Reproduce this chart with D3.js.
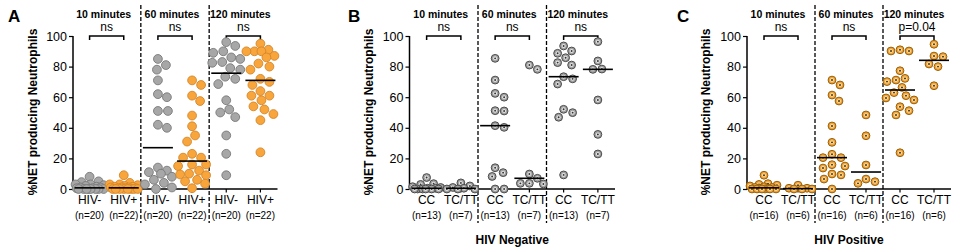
<!DOCTYPE html>
<html><head><meta charset="utf-8">
<script src="https://cdn.jsdelivr.net/npm/d3@7"></script>
<style>body{margin:0;background:#fff} svg{display:block} text{font-family:"Liberation Sans",Arial,sans-serif;fill:#000}</style>
</head><body><svg id="c" width="957" height="251"></svg>
<script>
// ---------- data ----------
const timepoints = ["10 minutes", "60 minutes", "120 minutes"];
const yTicks = [0, 20, 40, 60, 80, 100];
const yLabel = "%NET producing Neutrophils";

// Panel A
const groupsA = ["HIV-", "HIV+"];
const countsA = ["(n=20)", "(n=22)"];
const sigA = ["ns", "ns", "ns"];
const aNeg10 = [8, 5, 4.5, 3, 3, 2.5, 2, 1.5, 1, 1, 0.5, 0.5, 0, 0, 0, 0, 0, 0, 0, 0];
const aPos10 = [9, 4, 3, 3, 2.5, 2, 1.5, 1.5, 1, 1, 1, 0.5, 0.5, 0.5, 0, 0, 0, 0, 0, 0, 0, 0];
const aNeg60 = [85, 81, 78, 71, 62, 60, 51, 51, 42, 40, 14, 12, 11, 10, 8, 6, 4, 3, 1, 0];
const aPos60 = [71, 68, 61, 57.5, 48, 41, 35, 31, 23, 20.5, 20.5, 16, 16, 15, 12, 10, 9.5, 9, 6, 5, 3.5, 0.5];
const aNeg120 = [96, 93.5, 90, 89, 86, 85, 83, 82.5, 79, 78, 73.4, 72, 68.6, 58, 52, 50, 47, 35, 23, 9];
const aPos120 = [95, 91, 90, 90, 90, 87, 86, 82, 80, 78, 72, 70, 68, 64, 61, 61, 58, 54, 52, 49, 45, 24];

// Panel B (HIV Negative)
const groupsB = ["CC", "TC/TT"];
const countsB = ["(n=13)", "(n=7)"];
const sigB = ["ns", "ns", "ns"];
const footerB = "HIV Negative";
const bCC10 = [7.5, 3.5, 3, 1.5, 1, 0.5, 0.5, 0, 0, 0, 0, 0, 0];
const bTT10 = [4, 2, 1, 0.5, 0, 0, 0];
const bCC60 = [85.4, 71.2, 62.5, 60, 51.2, 51, 41.4, 40.3, 13.9, 10.7, 8.2, 0, 0];
const bTT60 = [81, 78.2, 9.8, 7, 3.7, 3.7, 3.3];
const bCC120 = [93.5, 90.2, 88.7, 85.8, 82.6, 81, 73.4, 72, 68.6, 52.1, 49.9, 46.9, 9.2];
const bTT120 = [96.3, 83.7, 78.4, 78.2, 58.2, 35.7, 22.9];

// Panel C (HIV Positive)
const groupsC = ["CC", "TC/TT"];
const countsC = ["(n=16)", "(n=6)"];
const sigC = ["ns", "ns", "p=0.04"];
const footerC = "HIV Positive";
const cCC10 = [9, 3.5, 3, 2.5, 2, 1.5, 1, 1, 0.5, 0.5, 0, 0, 0, 0, 0, 0];
const cTT10 = [2.5, 0.5, 0.5, 0, 0, 0];
const cCC60 = [71.2, 68, 61.4, 57.5, 41.2, 30.5, 22.7, 20.5, 20.5, 15.9, 15, 13.7, 9.8, 9.2, 6.5, 0];
const cTT60 = [48.4, 34.8, 15.7, 6.5, 4.8, 3.7];
const cCC120 = [91, 90.2, 90.2, 77.3, 72.3, 71.2, 70.2, 66.4, 63, 61, 59.5, 58.2, 53.8, 51.2, 48.4, 23.7];
const cTT120 = [94.6, 86.9, 86.5, 81.7, 80, 67.5];

// ---------- layout / style ----------
const GRAY = {fill: "#a7a7a7", stroke: "#787878"};
const ORANGE = {fill: "#f8a53c", stroke: "#d4862a"};
const GRAYDOT = {fill: "#a0a0a0", stroke: "#4c4c4c", inner: "#e4e4e4", center: "#333"};
const ORANGEDOT = {fill: "#f5a436", stroke: "#94600f", inner: "#fcdca2", center: "#3a2a10"};

const panels = [
  {letter: "A", letterX: 8, titleX: 33, axisX: 73, x0: 72.5, x1: 277.5, groups: groupsA, counts: countsA, sig: sigA,
   data: [[aNeg10, aPos10], [aNeg60, aPos60], [aNeg120, aPos120]], styles: [GRAY, ORANGE], dot: false, footer: null},
  {letter: "B", letterX: 348, titleX: 369, axisX: 409.5, x0: 409.5, x1: 615, groups: groupsB, counts: countsB, sig: sigB,
   data: [[bCC10, bTT10], [bCC60, bTT60], [bCC120, bTT120]], styles: [GRAYDOT, GRAYDOT], dot: true, footer: footerB},
  {letter: "C", letterX: 677, titleX: 706, axisX: 747, x0: 747, x1: 951, groups: groupsC, counts: countsC, sig: sigC,
   data: [[cCC10, cTT10], [cCC60, cTT60], [cCC120, cTT120]], styles: [ORANGEDOT, ORANGEDOT], dot: true, footer: footerC}
];

const svg = d3.select("#c");
const y = d3.scaleLinear().domain([0, 100]).range([189, 36]);

function swarm(vals, cx, dist, maxOff) {
  const pts = vals.map(v => ({v, y: y(v)})).sort((a, b) => b.v - a.v);
  const placed = [];
  const cands = [0];
  for (let k = 1; k <= maxOff; k++) { cands.push(k, -k); }
  pts.forEach(p => {
    let best = 0, bestScore = -Infinity, chosen = null;
    for (const o of cands) {
      let minD = Infinity;
      for (const q of placed) {
        const d = Math.hypot(q.x - (cx + o), q.y - p.y);
        if (d < minD) minD = d;
      }
      if (minD >= dist) { chosen = o; break; }
      if (minD > bestScore) { bestScore = minD; best = o; }
    }
    p.x = cx + (chosen === null ? best : chosen);
    placed.push(p);
  });
  return placed;
}

panels.forEach(P => {
  const g = svg.append("g");
  const cats = [];
  timepoints.forEach((t, i) => P.groups.forEach((gr, j) => cats.push(i + "_" + j)));
  const x = d3.scaleBand().domain(cats).range([P.x0, P.x1]);
  const cxOf = (i, j) => x(i + "_" + j) + x.bandwidth() / 2;

  // panel letter
  g.append("text").attr("x", P.letterX).attr("y", 22).attr("font-size", 17).attr("font-weight", "bold")
    .attr("fill", "#000").text(P.letter);
  // y title
  g.append("text").attr("transform", `translate(${P.titleX},112) rotate(-90)`).attr("text-anchor", "middle")
    .attr("dy", "0.35em").attr("font-size", 12).attr("font-weight", "bold").attr("fill", "#000").text(yLabel);

  // y axis
  const ya = d3.axisLeft(y).tickValues(yTicks).tickSize(4).tickPadding(2);
  const yg = g.append("g").attr("transform", `translate(${P.axisX},0)`).call(ya);
  yg.select(".domain").attr("stroke-width", 1.5).attr("d", `M0,${y(100)}V${y(0)}`);
  yg.selectAll(".tick line").attr("stroke-width", 1.2);
  yg.selectAll(".tick text").attr("font-size", 12.5).attr("fill", "#000")
    .attr("font-family", '"Liberation Sans",Arial,sans-serif');

  // x axis line
  g.append("line").attr("x1", P.axisX).attr("x2", P.x1).attr("y1", y(0)).attr("y2", y(0))
    .attr("stroke", "#000").attr("stroke-width", 1.5);

  // dashed separators
  [1, 2].forEach(i => {
    const xs = x(i + "_0");
    g.append("line").attr("x1", xs).attr("x2", xs).attr("y1", 5).attr("y2", 223)
      .attr("stroke", "#000").attr("stroke-width", 1.3).attr("stroke-dasharray", "4,2");
  });

  timepoints.forEach((t, i) => {
    const c0 = cxOf(i, 0), c1 = cxOf(i, 1);
    const mid = (x(i + "_0") + x(i + "_1") + x.bandwidth()) / 2;
    g.append("text").attr("x", mid - 3).attr("y", 17.8).attr("text-anchor", "middle")
      .attr("font-size", 10.5).attr("font-weight", "bold").attr("fill", "#000").text(t);
    g.append("text").attr("x", (c0 + c1) / 2).attr("y", 31).attr("text-anchor", "middle")
      .attr("font-size", 12).attr("fill", "#000").text(P.sig[i]);
    g.append("path").attr("d", `M${c0},40V36H${c1}V40`).attr("fill", "none").attr("stroke", "#000").attr("stroke-width", 1.5);

    P.groups.forEach((gr, j) => {
      const cx = cxOf(i, j);
      g.append("line").attr("x1", cx).attr("x2", cx).attr("y1", y(0)).attr("y2", y(0) + 3.5)
        .attr("stroke", "#000").attr("stroke-width", 1.2);
      g.append("text").attr("x", cx).attr("y", 204).attr("text-anchor", "middle").attr("font-size", 12)
        .attr("fill", "#000").text(gr);
      g.append("text").attr("x", cx).attr("y", 218.5).attr("text-anchor", "middle").attr("font-size", 10)
        .attr("fill", "#000").text(P.counts[j]);

      const vals = P.data[i][j];
      const st = P.styles[j];
      const pts = P.dot ? swarm(vals, cx, 9, 14) : swarm(vals, cx, 9.5, 14);
      const mg = g.append("g");
      pts.forEach(p => {
        if (!P.dot) {
          mg.append("circle").attr("cx", p.x).attr("cy", p.y).attr("r", 4.4)
            .attr("fill", st.fill).attr("stroke", st.stroke).attr("stroke-width", 0.9);
        } else {
          mg.append("circle").attr("cx", p.x).attr("cy", p.y).attr("r", 3.9)
            .attr("fill", st.fill).attr("stroke", st.stroke).attr("stroke-width", 1);
          mg.append("circle").attr("cx", p.x).attr("cy", p.y).attr("r", 2)
            .attr("fill", st.inner);
          mg.append("circle").attr("cx", p.x).attr("cy", p.y).attr("r", 0.95)
            .attr("fill", st.center);
        }
      });
      const med = d3.median(vals);
      g.append("line").attr("x1", cx - 15).attr("x2", cx + 15).attr("y1", y(med)).attr("y2", y(med))
        .attr("stroke", "#000").attr("stroke-width", 1.6);
    });
  });

  if (P.footer) {
    const mid = (x("1_0") + x("1_1") + x.bandwidth()) / 2;
    g.append("text").attr("x", mid).attr("y", 244).attr("text-anchor", "middle")
      .attr("font-size", 12).attr("font-weight", "bold").attr("fill", "#000").text(P.footer);
  }
});
</script></body></html>
